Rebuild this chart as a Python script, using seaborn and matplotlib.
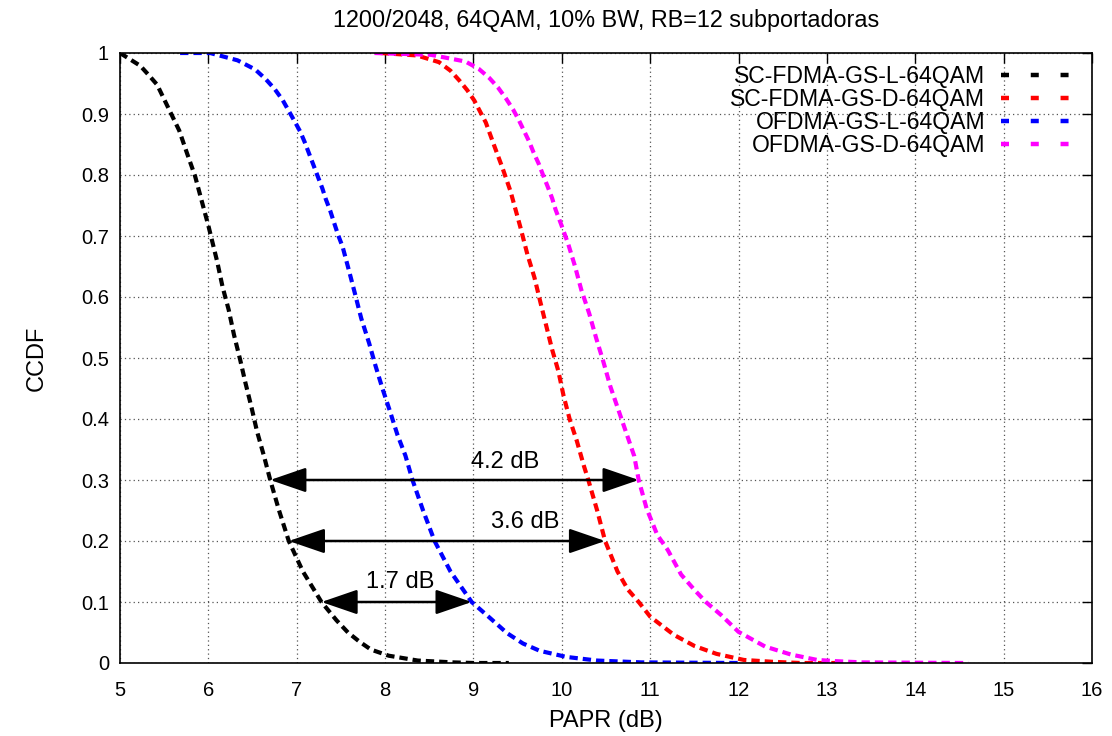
import numpy as np
import pandas as pd
import matplotlib
matplotlib.use("Agg")
import matplotlib.pyplot as plt
import seaborn as sns
from matplotlib.lines import Line2D

# ---------------- data ----------------
title = "1200/2048, 64QAM, 10% BW, RB=12 subportadoras"
x_label = "PAPR (dB)"
y_label = "CCDF"
series_names = ["SC-FDMA-GS-L-64QAM", "SC-FDMA-GS-D-64QAM",
                "OFDMA-GS-L-64QAM", "OFDMA-GS-D-64QAM"]
series_colors = ["#000000", "#ff0000", "#0000ff", "#ff00ff"]

scl_x = [5.0, 5.23, 5.33, 5.42, 5.55, 5.67, 5.76, 5.85, 5.92, 6.0, 6.10, 6.16,
         6.23, 6.29, 6.36, 6.42, 6.49, 6.55, 6.63, 6.70, 6.80, 6.91, 7.07, 7.28,
         7.45, 7.58, 7.71, 7.84, 8.04, 8.37, 8.77, 9.0, 9.4]
scl_y = [1.0, 0.979, 0.963, 0.948, 0.909, 0.873, 0.835, 0.798, 0.760, 0.717,
         0.658, 0.617, 0.579, 0.538, 0.497, 0.459, 0.418, 0.38, 0.339, 0.30,
         0.25, 0.20, 0.15, 0.10, 0.07, 0.05, 0.035, 0.022, 0.012, 0.004, 0.001,
         0.0, 0.0]

scd_x = [7.95, 8.36, 8.61, 8.74, 8.84, 8.93, 9.01, 9.14, 9.23, 9.33, 9.42, 9.53,
         9.61, 9.69, 9.76, 9.82, 9.89, 9.96, 10.02, 10.09, 10.17, 10.25, 10.30,
         10.40, 10.49, 10.63, 10.75, 10.87, 11.0, 11.27, 11.5, 11.75, 12.06,
         12.38, 12.7, 13.1]
scd_y = [1.0, 0.996, 0.985, 0.971, 0.955, 0.939, 0.922, 0.886, 0.85, 0.811,
         0.773, 0.715, 0.670, 0.632, 0.590, 0.555, 0.514, 0.479, 0.438, 0.399,
         0.364, 0.323, 0.30, 0.25, 0.20, 0.15, 0.12, 0.10, 0.076, 0.046, 0.028,
         0.015, 0.005, 0.002, 0.0, 0.0]

ofl_x = [5.68, 6.02, 6.33, 6.53, 6.65, 6.75, 6.84, 6.91, 6.98, 7.04, 7.09, 7.14,
         7.19, 7.24, 7.29, 7.33, 7.38, 7.42, 7.47, 7.52, 7.59, 7.66, 7.73, 7.82,
         7.89, 7.97, 8.05, 8.14, 8.23, 8.31, 8.43, 8.56, 8.74, 8.98, 9.17, 9.38,
         9.56, 9.75, 10.05, 10.4, 10.9, 12.0]
ofl_y = [1.0, 1.0, 0.988, 0.973, 0.957, 0.941, 0.923, 0.905, 0.887, 0.871,
         0.854, 0.835, 0.816, 0.797, 0.778, 0.76, 0.741, 0.723, 0.701, 0.682,
         0.644, 0.605, 0.565, 0.524, 0.488, 0.45, 0.415, 0.374, 0.34, 0.30, 0.25,
         0.20, 0.15, 0.10, 0.076, 0.049, 0.032, 0.02, 0.010, 0.004, 0.001, 0.0]

ofd_x = [7.88, 8.52, 8.91, 9.06, 9.18, 9.28, 9.37, 9.45, 9.51, 9.57, 9.63, 9.68,
         9.74, 9.79, 9.84, 9.89, 9.93, 9.99, 10.07, 10.15, 10.22, 10.31, 10.39,
         10.47, 10.55, 10.64, 10.73, 10.82, 10.87, 10.96, 11.08, 11.2, 11.35,
         11.5, 11.63, 11.8, 12.0, 12.3, 12.59, 12.89, 13.1, 13.4, 14.6]
ofd_y = [1.0, 0.997, 0.986, 0.974, 0.959, 0.943, 0.925, 0.907, 0.891, 0.873,
         0.855, 0.837, 0.818, 0.799, 0.781, 0.762, 0.743, 0.72, 0.688, 0.65,
         0.612, 0.573, 0.532, 0.494, 0.453, 0.415, 0.377, 0.339, 0.30, 0.253,
         0.21, 0.185, 0.145, 0.12, 0.10, 0.079, 0.051, 0.027, 0.014, 0.005,
         0.003, 0.001, 0.0]

# annotation arrows: level, start, end, label, label position
arrow_level = [0.3, 0.2, 0.1]
arrow_start = [6.70, 6.91, 7.28]
arrow_end = [10.87, 10.49, 8.98]
arrow_text = ["4.2 dB", "3.6 dB", "1.7 dB"]
arrow_text_x = [9.36, 9.58, 8.17]
arrow_text_y = [0.33, 0.231, 0.132]

x_ticks = list(range(5, 17))
y_ticks = [0, 0.1, 0.2, 0.3, 0.4, 0.5, 0.6, 0.7, 0.8, 0.9, 1]
y_tick_labels = ["0", "0.1", "0.2", "0.3", "0.4", "0.5", "0.6", "0.7", "0.8", "0.9", "1"]

# ---------------- build long table ----------------
frames = []
for name, xs, ys in zip(series_names, [scl_x, scd_x, ofl_x, ofd_x],
                        [scl_y, scd_y, ofl_y, ofd_y]):
    frames.append(pd.DataFrame({"PAPR": xs, "CCDF": ys, "serie": name}))
df = pd.concat(frames, ignore_index=True)

sns.set_theme(style="white")
plt.rcParams["font.family"] = ["Liberation Sans", "DejaVu Sans"]
plt.rcParams["text.color"] = "black"
plt.rcParams["axes.labelcolor"] = "black"
plt.rcParams["xtick.color"] = "black"
plt.rcParams["ytick.color"] = "black"

fig = plt.figure(figsize=(11.12, 7.36), dpi=100)
ax = fig.add_axes([120 / 1112, 1 - 663 / 736, (1092 - 120) / 1112, (663 - 53) / 736])

dash = (2.0, 1.2)
sns.lineplot(data=df, x="PAPR", y="CCDF", hue="serie", hue_order=series_names,
             palette=dict(zip(series_names, series_colors)), style="serie",
             style_order=series_names, dashes={n: dash for n in series_names},
             sort=False, estimator=None, linewidth=3.0, legend=False, ax=ax)

ax.set_xlim(5, 16)
ax.set_ylim(0, 1)
ax.set_xticks(x_ticks)
ax.set_yticks(y_ticks)
ax.set_yticklabels(y_tick_labels)
ax.grid(True, linestyle=(0, (1, 2.5)), color="#555555", linewidth=0.9)
ax.tick_params(axis="both", which="major", direction="in", length=7, width=1,
               top=True, right=True, labelsize=14.5, colors="black")
ax.tick_params(axis="x", pad=13)
ax.tick_params(axis="y", pad=8)
for s in ax.spines.values():
    s.set_color("black")
    s.set_linewidth(1.2)

ax.set_xlabel(x_label, fontsize=17, labelpad=7, color="black")
ax.set_ylabel(y_label, fontsize=17, labelpad=24, color="black")
ax.set_title(title, fontsize=16.8, pad=19, color="black")

# legend (gnuplot style: text right aligned, sample after)
handles = [Line2D([0], [0], color=c, linewidth=3.2, dashes=(1.8, 4.9))
           for c in series_colors]
leg = ax.legend(handles, series_names, loc="upper right", frameon=False,
                markerfirst=False, fontsize=16.6, handlelength=3.0,
                labelspacing=0.0, handletextpad=0.7,
                bbox_to_anchor=(0.992, 1.003), borderaxespad=0.2)
for t in leg.get_texts():
    t.set_color("black")

# annotations
for lvl, xs, xe, txt, tx, ty in zip(arrow_level, arrow_start, arrow_end,
                                    arrow_text, arrow_text_x, arrow_text_y):
    ax.annotate("", xy=(xe, lvl), xytext=(xs, lvl),
                arrowprops=dict(arrowstyle="<|-|>,head_length=1.6,head_width=0.55",
                                color="black", lw=1.8, shrinkA=0, shrinkB=0,
                                mutation_scale=14))
    ax.text(tx, ty, txt, fontsize=17, ha="center", va="center", color="black")

fig.savefig("out.png", dpi=100)
